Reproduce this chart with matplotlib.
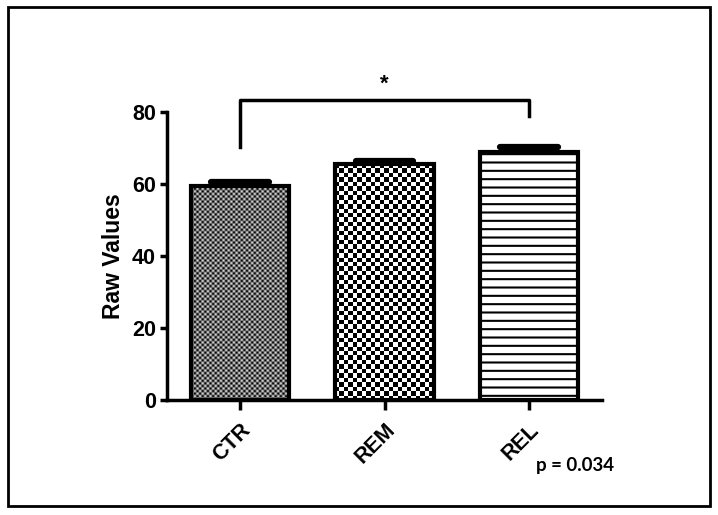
import numpy as np
import matplotlib.pyplot as plt
from matplotlib.colors import ListedColormap
from matplotlib.patches import Rectangle

groups = ['CTR', 'REM', 'REL']
means = [59.5, 65.5, 68.8]
errors = [1.0, 1.0, 1.5]
yticks = [0, 20, 40, 60, 80]
sig_left, sig_right = 0, 2
sig_legs = [70.2, 78.8]
sig_top = 83.2
p_text = 'p = 0.034'

plt.rcParams['hatch.linewidth'] = 1.5

fig = plt.figure(figsize=(7.18, 5.15), dpi=100)
ax = fig.add_axes([0.2326, 0.2233, 0.6060, 0.5592])

x = np.arange(len(groups))
bars = ax.bar(x, means, width=0.68, facecolor='none', edgecolor='black',
              linewidth=3, zorder=3)
ax.errorbar(x, means, yerr=[np.zeros(3), errors], fmt='none', ecolor='black',
            elinewidth=2, capsize=0, zorder=1)
# wide rounded caps sitting on each bar
for xi, m, e in zip(x, means, errors):
    ax.plot([xi - 0.2, xi + 0.2], [m + e, m + e], color='black', lw=4.5,
            solid_capstyle='round', zorder=1)

# textures: fine checker (CTR), coarse checker (REM), horizontal lines (REL)
def checker(bar, n_cols, n_rows, light):
    img = (np.add.outer(np.arange(n_rows), np.arange(n_cols)) % 2).astype(float)
    x0, y0 = bar.get_x(), bar.get_y()
    w, h = bar.get_width(), bar.get_height()
    cmap = ListedColormap(['black', light])
    im = ax.imshow(img, cmap=cmap, extent=[x0, x0 + w, y0, y0 + h],
                   aspect='auto', interpolation='antialiased', zorder=2)
    im.set_clip_path(bar)

checker(bars[0], 38, 84, '#d8d8d8')
checker(bars[1], 22, 53, 'white')
bars[2].set_hatch('--')

ax.set_xlim(-0.507, 2.507)
ax.set_ylim(0, 80)
ax.set_yticks(yticks)
ax.set_xticks(x)
ax.set_xticklabels(groups, rotation=45, ha='right', rotation_mode='anchor')
for lab in ax.get_xticklabels() + ax.get_yticklabels():
    lab.set_fontfamily('Liberation Sans')
    lab.set_fontweight('bold')
    lab.set_fontsize(15.5)
ax.tick_params(axis='both', width=2.5, length=5, direction='out', pad=3)
ax.tick_params(axis='x', length=7, pad=7)
ax.set_ylabel('Raw Values', fontfamily='Liberation Sans', fontweight='bold',
              fontsize=16.5, labelpad=5)
for side in ['top', 'right']:
    ax.spines[side].set_visible(False)
for side in ['left', 'bottom']:
    ax.spines[side].set_linewidth(2.5)

# significance bracket
ax.plot([sig_left, sig_left, sig_right, sig_right],
        [sig_legs[0], sig_top, sig_top, sig_legs[1]], color='black', lw=2.5,
        clip_on=False)
ax.text((sig_left + sig_right) / 2, sig_top + 1.6, '*', ha='center', va='bottom',
        fontsize=16, fontweight='bold', fontfamily='Liberation Sans')

fig.text(0.801, 0.097, p_text, ha='center', va='center', fontsize=13.5,
         fontfamily='Lato', fontweight='bold')

fig.patches.append(Rectangle((0.0105, 0.0175), 0.978, 0.968, transform=fig.transFigure,
                             fill=False, edgecolor='black', linewidth=2))

fig.savefig('out.png', dpi=100)
